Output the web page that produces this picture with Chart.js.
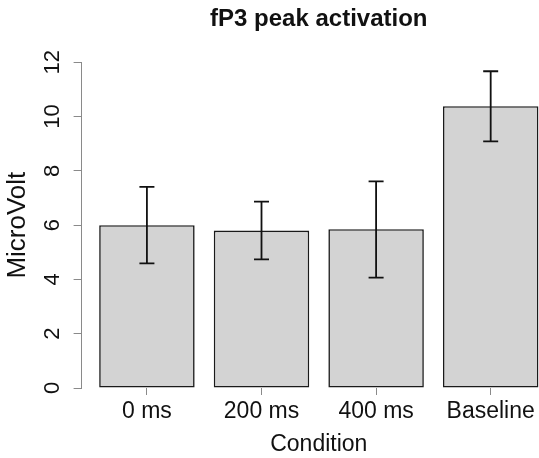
<!DOCTYPE html>
<html>
<head>
<meta charset="utf-8">
<title>fP3 peak activation</title>
<script src="https://cdn.jsdelivr.net/npm/chart.js@4/dist/chart.umd.min.js"></script>
<style>
  html, body { margin: 0; padding: 0; overflow: hidden; background: #fff; }
  canvas { display: block; }
</style>
</head>
<body>
<canvas id="peakChart" width="570" height="458"></canvas>
<script>
// ── Data ──────────────────────────────────────────────────────────────────────
const CATEGORIES = ['0 ms', '200 ms', '400 ms', 'Baseline'];
const MEANS      = [6.00, 5.80, 5.85, 10.38];
const CI_LOW     = [4.59, 4.74, 4.07, 9.09];
const CI_HIGH    = [7.41, 6.87, 7.61, 11.67];
const Y_TICKS    = [0, 2, 4, 6, 8, 10, 12];

// ── Barplot geometry (R style: width 1, space 0.2, 4% axis padding) ─────────
const BAR_WIDTH = 1;
const BAR_SPACE = 0.2;
const barCenter = i => BAR_SPACE + i * (BAR_WIDTH + BAR_SPACE) + BAR_WIDTH / 2;
const X_LO  = BAR_SPACE;
const X_HI  = CATEGORIES.length * (BAR_WIDTH + BAR_SPACE);
const X_PAD = (X_HI - X_LO) * 0.04;

const AXIS_GREY = '#8a8a8a';
const INK       = '#111111';

// error bars drawn on top of the bars, through the y scale
const errorBars = {
  id: 'errorBars',
  afterDatasetsDraw(chart) {
    const { ctx, scales: { y } } = chart;
    const meta = chart.getDatasetMeta(0);
    const cap  = 7.5;
    ctx.save();
    ctx.strokeStyle = INK;
    ctx.lineWidth   = 1.8;
    meta.data.forEach((bar, i) => {
      const yHi = y.getPixelForValue(CI_HIGH[i]);
      const yLo = y.getPixelForValue(CI_LOW[i]);
      ctx.beginPath();
      ctx.moveTo(bar.x, yHi);       ctx.lineTo(bar.x, yLo);
      ctx.moveTo(bar.x - cap, yHi); ctx.lineTo(bar.x + cap, yHi);
      ctx.moveTo(bar.x - cap, yLo); ctx.lineTo(bar.x + cap, yLo);
      ctx.stroke();
    });
    ctx.restore();
  },
};

Chart.defaults.font.family = "'Liberation Sans', Arial, sans-serif";
Chart.defaults.color       = INK;

new Chart(document.getElementById('peakChart'), {
  type: 'bar',
  data: {
    datasets: [{
      data:               MEANS.map((v, i) => ({ x: barCenter(i), y: v })),
      backgroundColor:    '#d3d3d3',
      borderColor:        '#1a1a1a',
      borderWidth:        1.6,
      borderSkipped:      false,
      barPercentage:      1,
      categoryPercentage: BAR_WIDTH / (BAR_WIDTH + BAR_SPACE),
    }],
  },
  options: {
    responsive: false,
    animation:  false,
    layout:     { padding: { left: 0, right: 14, top: 0, bottom: 0 } },
    plugins: {
      legend:  { display: false },
      tooltip: { enabled: false },
      title: {
        display:  true,
        text:     'fP3 peak activation',
        fullSize: false,
        color:    INK,
        font:     { size: 24, weight: 'bold' },
        padding:  { top: 5, bottom: 28.5 },
      },
    },
    scales: {
      x: {
        type:   'linear',
        offset: false,
        min:    X_LO - X_PAD,
        max:    X_HI + X_PAD,
        border: { display: false },
        grid:   { offset: false, drawOnChartArea: false, drawTicks: true, tickLength: 7, tickColor: AXIS_GREY },
        afterBuildTicks(axis) { axis.ticks = CATEGORIES.map((_, i) => ({ value: barCenter(i) })); },
        afterFit(scale) { scale.height = 70; },
        ticks: {
          padding:  3,
          font:     { size: 23 },
          callback: (val, idx) => CATEGORIES[idx],
        },
        title: {
          display: true,
          text:    'Condition',
          font:    { size: 23 },
          padding: { top: 0, bottom: 0 },
        },
      },
      y: {
        min:    0,
        max:    12,
        border: { display: true, color: AXIS_GREY, width: 1 },
        grid:   { drawOnChartArea: false, drawTicks: true, tickLength: 8, tickColor: AXIS_GREY },
        afterBuildTicks(axis) { axis.ticks = Y_TICKS.map(v => ({ value: v })); },
        afterFit(scale) { scale.width = 81.6; },
        ticks: {
          minRotation: 90,
          maxRotation: 90,
          crossAlign:  'center',
          padding:     8.5,
          font:        { size: 22 },
        },
        title: {
          display: true,
          text:    'MicroVolt',
          font:    { size: 26 },
          padding: { top: 2, bottom: 0 },
        },
      },
    },
  },
  plugins: [errorBars],
});
</script>
</body>
</html>
